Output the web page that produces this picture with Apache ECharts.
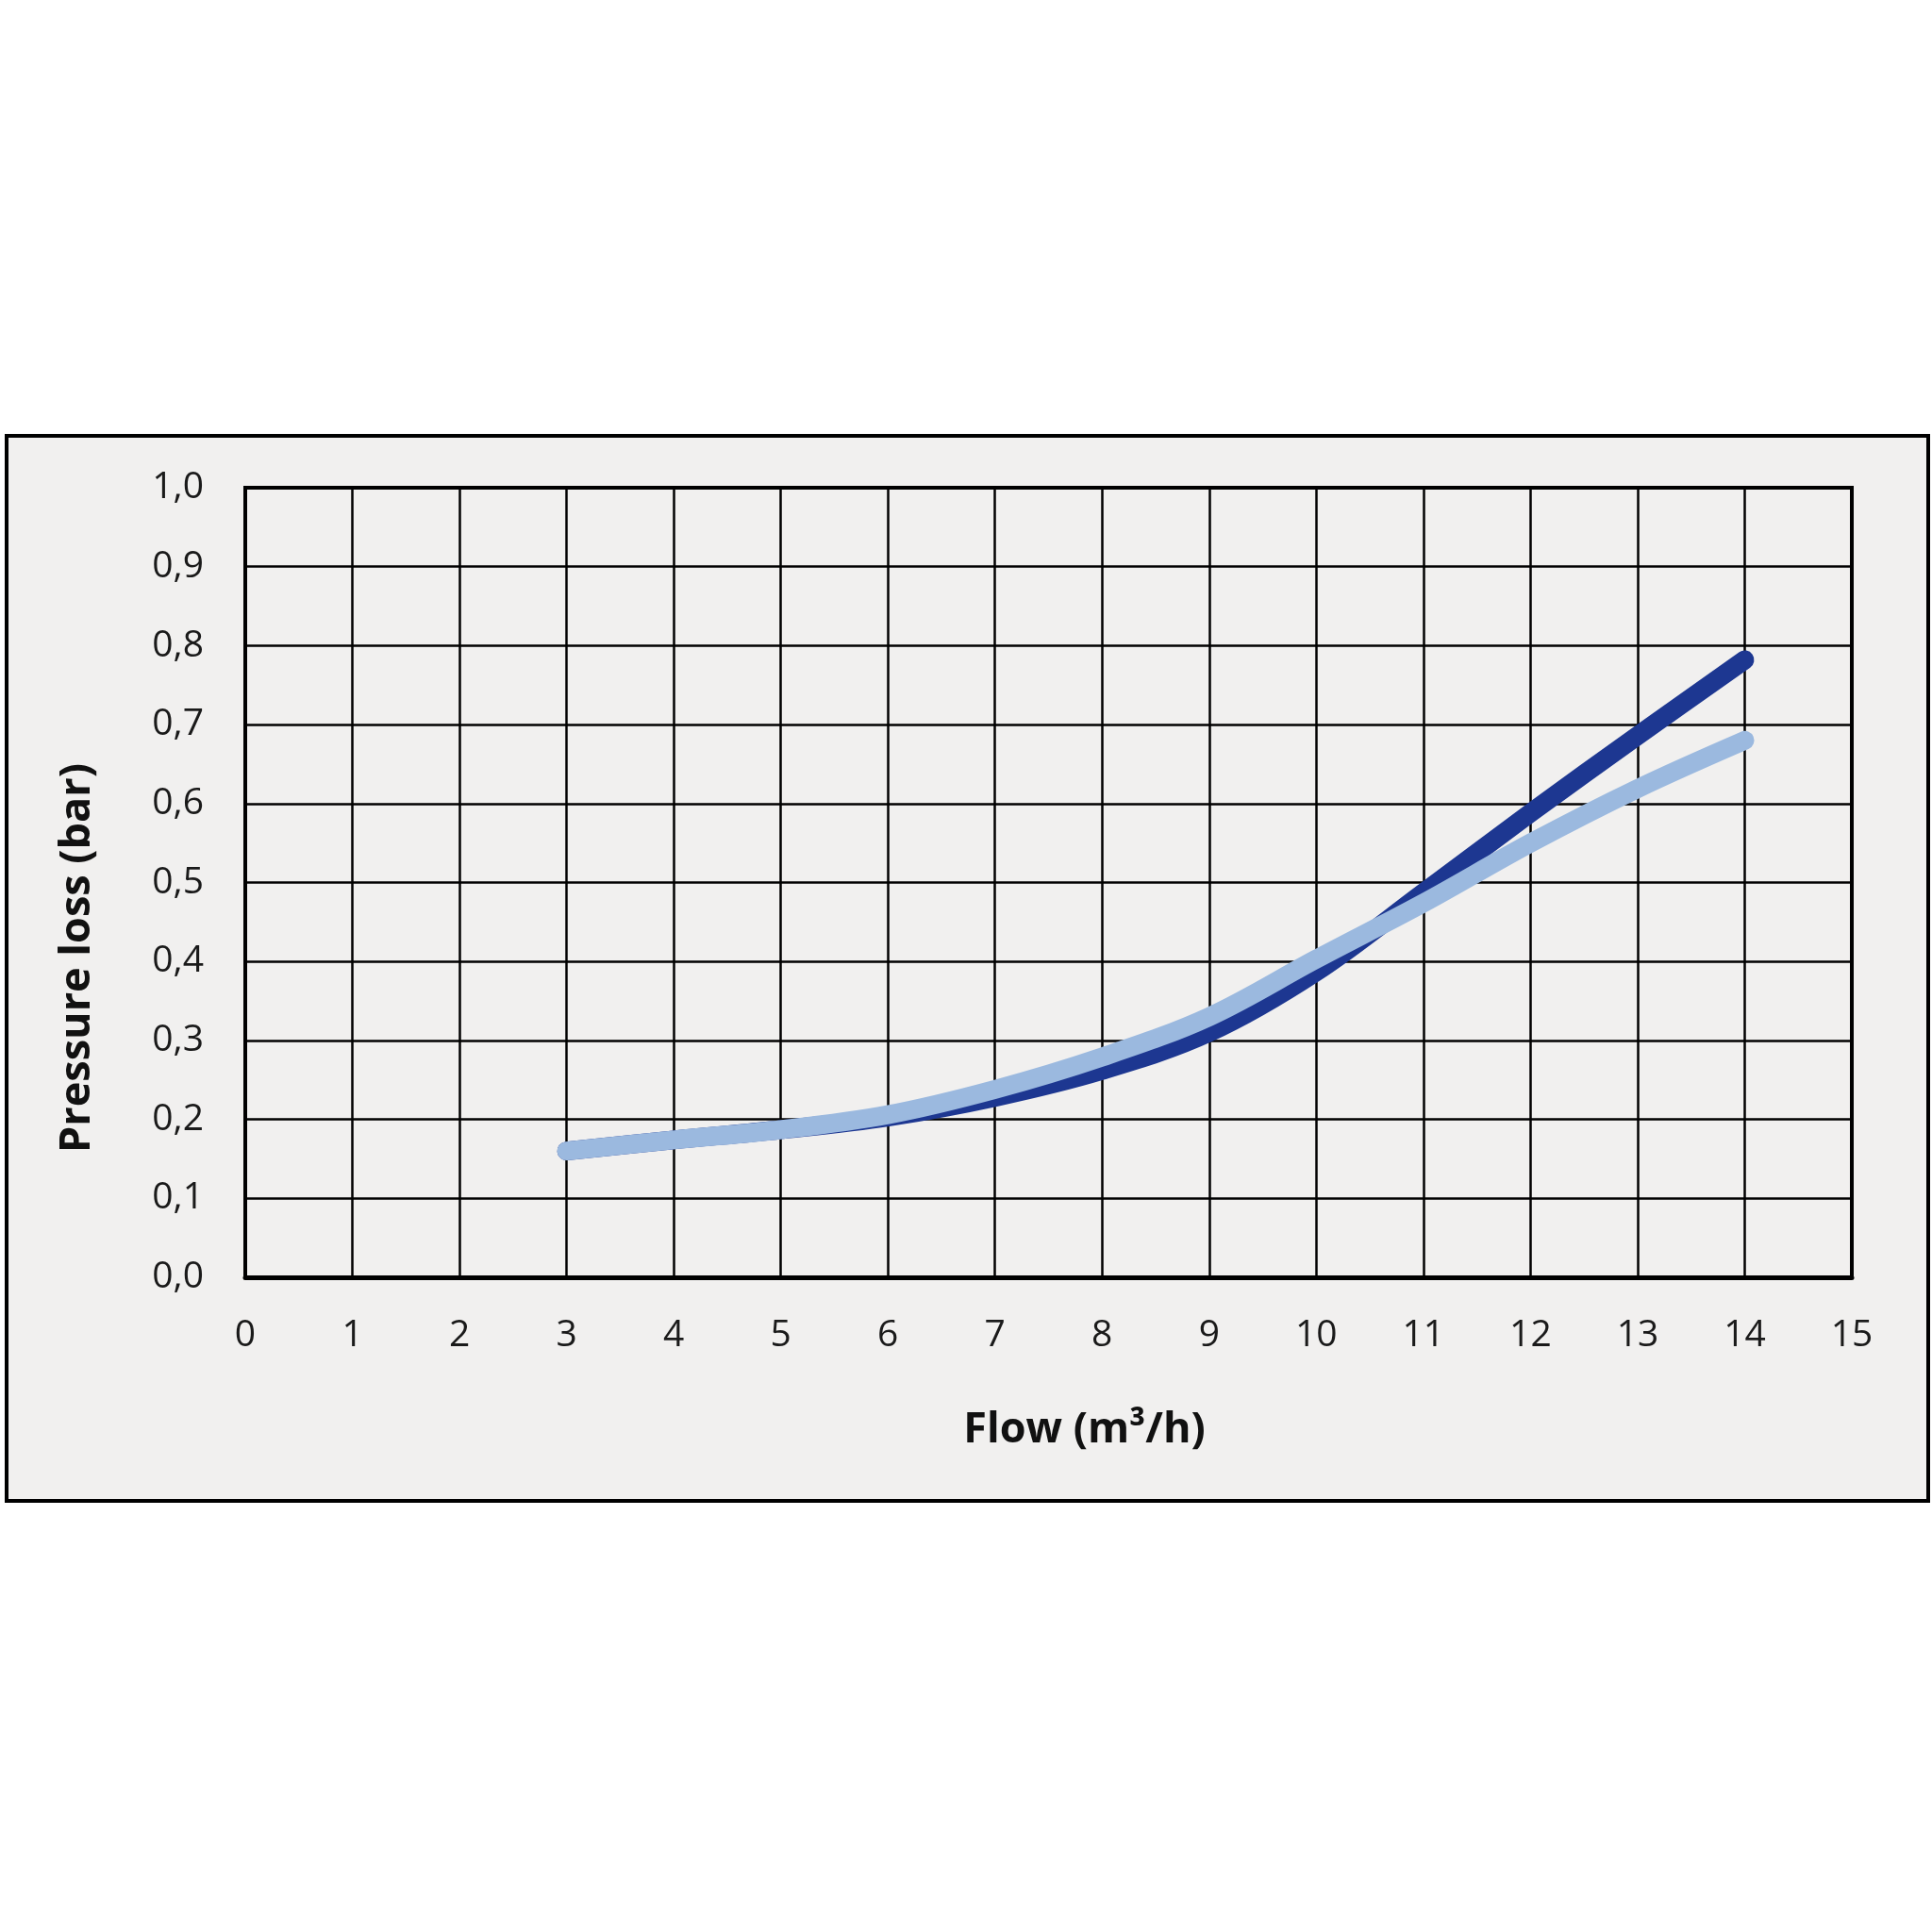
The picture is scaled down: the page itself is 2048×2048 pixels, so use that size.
<!DOCTYPE html>
<html><head><meta charset="utf-8">
<script src="https://cdn.jsdelivr.net/npm/echarts@6/dist/echarts.min.js"></script>
<style>html,body{margin:0;padding:0;background:#fff}#c{width:2048px;height:2048px}</style>
</head><body><div id="c"></div>
<script>
const flow = [3, 4, 5, 6, 7, 8, 9, 10, 11, 12, 13, 14];
const darkSeries = [0.160, 0.174, 0.187, 0.203, 0.228, 0.262, 0.310, 0.387, 0.487, 0.588, 0.686, 0.782];
const lightSeries = [0.160, 0.174, 0.187, 0.206, 0.238, 0.279, 0.330, 0.403, 0.474, 0.550, 0.619, 0.680];
const yTickLabels = ['0,0','0,1','0,2','0,3','0,4','0,5','0,6','0,7','0,8','0,9','1,0'];
const xName = 'Flow (m³/h)';
const yName = 'Pressure loss (bar)';

const font = 'Open Sans';
const chart = echarts.init(document.getElementById('c'), null, {renderer: 'canvas'});
chart.setOption({
  backgroundColor: '#ffffff',
  animation: false,
  graphic: [{
    type: 'rect', z: -10, silent: true,
    shape: {x: 7, y: 462, width: 2037, height: 1129},
    style: {fill: '#f1f0ef', stroke: '#000', lineWidth: 4}
  }],
  grid: {left: 260, right: 85, top: 517, bottom: 694, show: true, borderColor: '#000', borderWidth: 4, backgroundColor: 'transparent'},
  xAxis: {
    type: 'value', min: 0, max: 15, interval: 1,
    name: xName, nameLocation: 'middle', nameGap: 140,
    nameTextStyle: {fontFamily: font, fontSize: 45, fontWeight: 'bold', color: '#111', padding: [0, 0, 0, 76]},
    axisLine: {show: true, lineStyle: {color: '#000', width: 5}},
    axisTick: {show: false},
    axisLabel: {fontFamily: font, fontSize: 39, color: '#1a1a1a', margin: 42},
    splitLine: {show: true, lineStyle: {color: '#000', width: 2.5}}
  },
  yAxis: {
    type: 'value', min: 0, max: 1, interval: 0.1,
    name: yName, nameLocation: 'middle', nameGap: 155,
    nameTextStyle: {fontFamily: font, fontSize: 45, fontWeight: 'bold', color: '#111', padding: [0, 160, 0, 0]},
    axisLine: {show: true, lineStyle: {color: '#000', width: 4}},
    axisTick: {show: false},
    axisLabel: {fontFamily: font, fontSize: 39, color: '#1a1a1a', margin: 44,
      formatter: (v) => yTickLabels[Math.round(v * 10)]},
    splitLine: {show: true, lineStyle: {color: '#000', width: 2.5}}
  },
  series: [
    {type: 'line', name: 'dark', data: flow.map((x, i) => [x, darkSeries[i]]), smooth: 0.35, showSymbol: false,
     lineStyle: {color: '#1d3791', width: 20, cap: 'round', join: 'round'}, z: 3},
    {type: 'line', name: 'light', data: flow.map((x, i) => [x, lightSeries[i]]), smooth: 0.35, showSymbol: false,
     lineStyle: {color: '#9bb9df', width: 20, cap: 'round', join: 'round'}, z: 4}
  ]
});
</script></body></html>
